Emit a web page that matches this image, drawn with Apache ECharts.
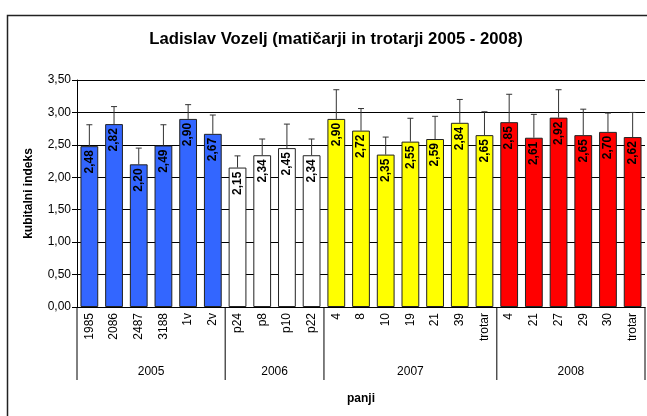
<!DOCTYPE html>
<html>
<head>
<meta charset="utf-8">
<script src="https://cdn.jsdelivr.net/npm/echarts@6/dist/echarts.min.js"></script>
<style>
  html, body { margin: 0; padding: 0; background: #fff; }
  #chart { width: 647px; height: 416px; }
</style>
</head>
<body>
<div id="chart"></div>
<script>
// panji po letih
var categories = ['1985', '2086', '2487', '3188', '1v', '2v',
                  'p24', 'p8', 'p10', 'p22',
                  '4', '8', '10', '19', '21', '39', 'trotar',
                  '4', '21', '27', '29', '30', 'trotar'];
var years = ['2005', '2006', '2007', '2008'];
var yearCounts = [6, 4, 7, 6];
// kubitalni indeks (povprecje) in zgornji konec napake
var values = [2.48, 2.82, 2.20, 2.49, 2.90, 2.67,
              2.15, 2.34, 2.45, 2.34,
              2.90, 2.72, 2.35, 2.55, 2.59, 2.84, 2.65,
              2.85, 2.61, 2.92, 2.65, 2.70, 2.62];
var errTop = [2.81, 3.09, 2.45, 2.81, 3.12, 2.96,
              2.33, 2.59, 2.82, 2.59,
              3.35, 3.06, 2.62, 2.91, 2.94, 3.20, 3.01,
              3.28, 2.97, 3.35, 3.05, 2.99, 3.00];
var yTicks = [0, 0.5, 1, 1.5, 2, 2.5, 3, 3.5];

var yearColors = ['#3366ff', '#ffffff', '#ffff00', '#ff0000'];
var FONT = 'Arial, "Liberation Sans", sans-serif';

function comma(v) {
    return v.toFixed(2).replace('.', ',');
}

// barva stolpca glede na leto
var barData = [];
var groups = [];
var idx = 0;
for (var g = 0; g < years.length; g++) {
    groups.push([idx, idx + yearCounts[g] - 1]);
    for (var k = 0; k < yearCounts[g]; k++) {
        barData.push({ value: values[idx], itemStyle: { color: yearColors[g] } });
        idx++;
    }
}
var errData = values.map(function (v, i) { return [i, v, errTop[i]]; });

var chart = echarts.init(document.getElementById('chart'));

var option = {
    animation: false,
    backgroundColor: '#fff',
    title: {
        text: 'Ladislav Vozelj (matičarji in trotarji 2005 - 2008)',
        left: 331,
        top: 26,
        textAlign: 'center',
        textStyle: { fontFamily: FONT, fontSize: 16.7, fontWeight: 'bold', color: '#000' }
    },
    graphic: [{
        type: 'rect',
        left: 5,
        top: 13,
        shape: { width: 700, height: 460 },
        style: { fill: 'none', stroke: '#222', lineWidth: 1.5 },
        silent: true
    }],
    grid: { left: 77, top: 80, right: 2, bottom: 109 },
    xAxis: {
        type: 'category',
        data: categories,
        name: 'panji',
        nameLocation: 'middle',
        nameGap: 86,
        nameTextStyle: { fontFamily: FONT, fontSize: 12, fontWeight: 'bold', color: '#000' },
        axisLine: { lineStyle: { color: '#000', width: 1 } },
        axisTick: { length: 44, lineStyle: { color: '#000' } },
        axisLabel: {
            rotate: 90, interval: 0, margin: 6,
            fontFamily: FONT, fontSize: 12, color: '#000'
        }
    },
    yAxis: {
        type: 'value',
        min: yTicks[0],
        max: yTicks[yTicks.length - 1],
        interval: 0.5,
        name: 'kubitalni indeks',
        nameLocation: 'middle',
        nameRotate: 90,
        nameGap: 42,
        nameTextStyle: { fontFamily: FONT, fontSize: 12, fontWeight: 'bold', color: '#000' },
        axisLine: { show: true, lineStyle: { color: '#000' } },
        axisTick: { show: true, length: 5, lineStyle: { color: '#000' } },
        axisLabel: {
            fontFamily: FONT, fontSize: 12, color: '#000', margin: 6,
            formatter: function (v) { return comma(v); }
        },
        splitLine: { lineStyle: { color: '#000', width: 1 } }
    },
    series: [
        {
            type: 'bar',
            data: barData,
            barCategoryGap: '28%',
            itemStyle: { borderColor: '#222', borderWidth: 1 },
            label: {
                show: true,
                position: 'insideTop',
                rotate: 90,
                align: 'right',
                verticalAlign: 'middle',
                distance: 4,
                fontFamily: FONT, fontSize: 12, fontWeight: 'bold', color: '#000',
                formatter: function (p) { return comma(p.value); }
            }
        },
        {
            // napake (samo navzgor)
            type: 'custom',
            data: errData,
            encode: { x: 0, y: [1, 2] },
            z: 3,
            renderItem: function (params, api) {
                var lo = api.coord([api.value(0), api.value(1)]);
                var hi = api.coord([api.value(0), api.value(2)]);
                var half = 3;
                return {
                    type: 'group',
                    children: [
                        { type: 'line', shape: { x1: lo[0], y1: lo[1], x2: hi[0], y2: hi[1] },
                          style: { stroke: '#333', lineWidth: 1 } },
                        { type: 'line', shape: { x1: hi[0] - half, y1: hi[1], x2: hi[0] + half, y2: hi[1] },
                          style: { stroke: '#333', lineWidth: 1 } }
                    ]
                };
            }
        },
        {
            // leta pod osjo
            type: 'custom',
            data: groups,
            encode: { x: [0, 1] },
            clip: false,
            silent: true,
            renderItem: function (params, api) {
                var bw = api.size([1, 0])[0];
                var a = api.coord([api.value(0), 0]);
                var b = api.coord([api.value(1), 0]);
                var x0 = a[0] - bw / 2;
                var x1 = b[0] + bw / 2;
                var y0 = a[1];
                var children = [
                    { type: 'line', shape: { x1: x0, y1: y0, x2: x0, y2: y0 + 73 },
                      style: { stroke: '#000', lineWidth: 1 } },
                    { type: 'text', x: (x0 + x1) / 2, y: y0 + 65,
                      style: { text: years[params.dataIndex], fill: '#000',
                               font: '12px ' + FONT, align: 'center', verticalAlign: 'middle' } }
                ];
                if (params.dataIndex === years.length - 1) {
                    children.push({ type: 'line', shape: { x1: x1, y1: y0, x2: x1, y2: y0 + 73 },
                                    style: { stroke: '#000', lineWidth: 1 } });
                }
                return { type: 'group', children: children };
            }
        }
    ]
};

chart.setOption(option);
</script>
</body>
</html>
